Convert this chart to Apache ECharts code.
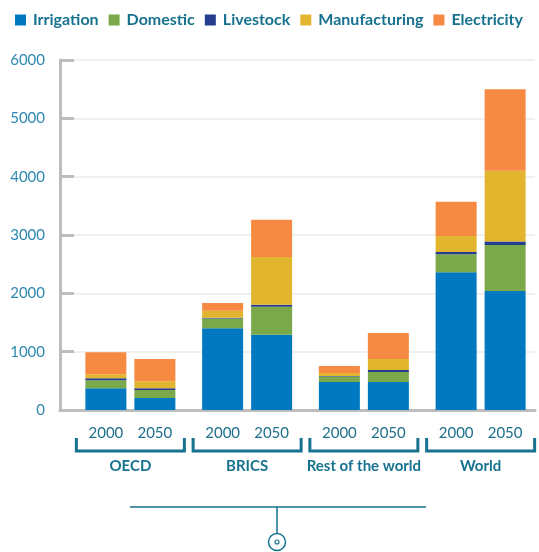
<!DOCTYPE html>
<html>
<head>
<meta charset="utf-8">
<title>Water demand</title>
<script src="https://cdn.jsdelivr.net/npm/echarts@6/dist/echarts.min.js"></script>
<style>
    html, body { margin: 0; padding: 0; background: #fff; }
    #main { width: 539px; height: 552px; }
</style>
</head>
<body>
<div id="main"></div>
<script>
    var groups = ['OECD', 'BRICS', 'Rest of the world', 'World'];
    var years = ['2000', '2050'];
    var yTicks = [0, 1000, 2000, 3000, 4000, 5000, 6000];

    // values per group, bottom to top of each stack
    var irrigation2000 = [375, 1400, 480, 2360];
    var irrigation2050 = [205, 1290, 480, 2040];
    var domestic2000 = [135, 170, 95, 310];
    var domestic2050 = [140, 480, 170, 790];
    var livestock2000 = [35, 10, 10, 40];
    var livestock2050 = [30, 35, 35, 60];
    var manufacturing2000 = [70, 120, 50, 275];
    var manufacturing2050 = [120, 820, 190, 1210];
    var electricity2000 = [375, 135, 120, 585];
    var electricity2050 = [380, 635, 445, 1400];

    var names = ['Irrigation', 'Domestic', 'Livestock', 'Manufacturing', 'Electricity'];
    var colors = ['#0079c1', '#7ba84a', '#253d8f', '#e1b52d', '#f68a42'];
    var byYear = {
        '2000': [irrigation2000, domestic2000, livestock2000, manufacturing2000, electricity2000],
        '2050': [irrigation2050, domestic2050, livestock2050, manufacturing2050, electricity2050]
    };

    var teal = '#16728f';
    var font = 'Lato';

    var myChart = echarts.init(document.getElementById('main'));

    var series = [];
    for (var y = 0; y < years.length; y++) {
        for (var i = 0; i < names.length; i++) {
            var s = {
                name: names[i],
                type: 'bar',
                stack: years[y],
                xAxisIndex: 1,
                yAxisIndex: 1,
                barWidth: 41,
                barGap: '19.5%',
                itemStyle: { color: colors[i] },
                emphasis: { disabled: true },
                data: byYear[years[y]][i]
            };
            // year label under the bottom segment
            if (i === 0) {
                s.label = {
                    show: true,
                    position: 'bottom',
                    distance: 16,
                    formatter: years[y],
                    color: '#1d6f8b',
                    fontFamily: font,
                    fontSize: 15
                };
            }
            series.push(s);
        }
    }

    var option = {
        animation: false,
        legend: {
            data: names,
            left: 15,
            top: 12,
            width: 530,
            padding: 0,
            icon: 'rect',
            itemWidth: 11,
            itemHeight: 11,
            itemGap: 10,
            textStyle: { color: teal, fontFamily: font, fontWeight: 'bold', fontSize: 16, padding: [0, 0, 0, 2] }
        },
        grid: [
            { left: 60, right: 4, top: 60, bottom: 142 },
            { left: 72, width: 468, top: 60, bottom: 142 }
        ],
        xAxis: [
            {
                gridIndex: 0, type: 'value', min: 0, max: 1,
                axisLine: { show: true, lineStyle: { color: '#bdbdbd', width: 3 } },
                axisTick: { show: false }, axisLabel: { show: false }, splitLine: { show: false }
            },
            {
                gridIndex: 1, type: 'category', data: groups,
                axisLine: { show: false }, axisTick: { show: false },
                axisLabel: { interval: 0, margin: 49, color: teal, fontFamily: font, fontWeight: 'bold', fontSize: 15 }
            }
        ],
        yAxis: [
            {
                gridIndex: 0, type: 'value', min: yTicks[0], max: yTicks[yTicks.length - 1], interval: 1000,
                axisLine: { show: true, lineStyle: { color: '#bdbdbd', width: 3 } },
                axisTick: { show: true, inside: true, length: 14, lineStyle: { color: '#bdbdbd', width: 3 } },
                axisLabel: {
                    margin: 15, color: '#2d88b0', fontFamily: font, fontSize: 15,
                    formatter: function (v) { return String(v); }
                },
                splitLine: { lineStyle: { color: '#f0f0f0', width: 2 } }
            },
            {
                gridIndex: 1, type: 'value', min: 0, max: 6000, show: false
            }
        ],
        series: series
    };

    myChart.setOption(option);

    // brackets under each group, plus the little connector at the bottom
    var graphics = [];
    for (var g = 0; g < groups.length; g++) {
        var cx = myChart.convertToPixel({ xAxisIndex: 1 }, groups[g]);
        graphics.push({
            type: 'polyline',
            shape: { points: [[cx - 54, 438], [cx - 54, 451], [cx + 54, 451], [cx + 54, 438]] },
            style: { stroke: teal, lineWidth: 3, fill: null }
        });
    }
    graphics.push({ type: 'line', shape: { x1: 130, y1: 507, x2: 426, y2: 507 }, style: { stroke: teal, lineWidth: 1.5 } });
    graphics.push({ type: 'line', shape: { x1: 277, y1: 507, x2: 277, y2: 534 }, style: { stroke: teal, lineWidth: 1.5 } });
    graphics.push({ type: 'circle', shape: { cx: 277, cy: 542, r: 8.5 }, style: { stroke: teal, lineWidth: 1.5, fill: '#fff' } });
    graphics.push({ type: 'circle', shape: { cx: 277, cy: 542, r: 2 }, style: { stroke: teal, lineWidth: 1.2, fill: '#fff' } });

    myChart.setOption({ graphic: graphics });
</script>
</body>
</html>
